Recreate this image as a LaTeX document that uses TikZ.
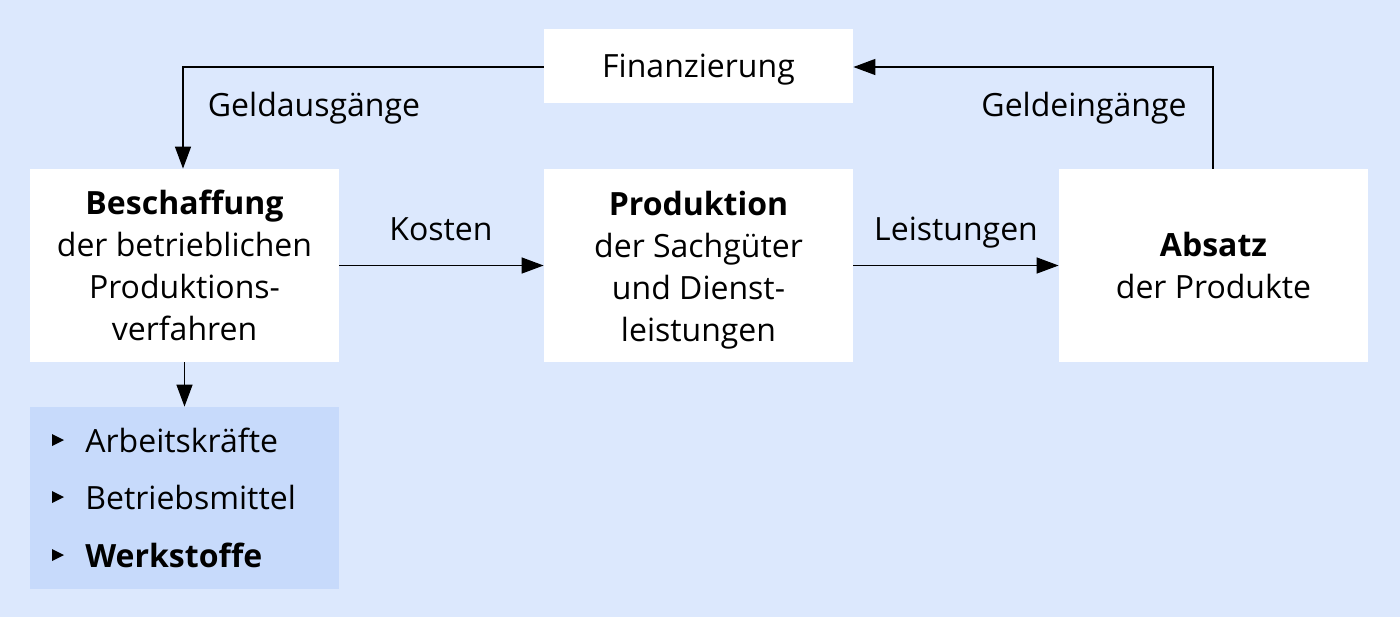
\documentclass[tikz,border=0pt]{standalone}
\usepackage{fontspec}
\setmainfont{Open Sans}
\usetikzlibrary{arrows.meta}
\definecolor{bgblue}{HTML}{DCE8FD}
\definecolor{listblue}{HTML}{C7DAFB}
\begin{document}
\begin{tikzpicture}[x=0.5pt,y=-0.5pt,
  every node/.style={font=\fontsize{16pt}{21pt}\selectfont, inner sep=0pt},
  box/.style={fill=white, minimum width=154.5pt, align=center},
  conn/.style={draw=black, line width=0.7pt, -{Triangle[length=11pt,width=8pt]}},
  lbl/.style={fill=none}
]
\fill[bgblue] (0,0) rectangle (1400,617);
\useasboundingbox (0,0) rectangle (1400,617);

\node[box, minimum height=37pt] (fin) at (698.5,66) {};
\node (fint) at (698.5,70) {Finanzierung};
\node[box, minimum height=96.5pt] (bes) at (184.5,265.5) {\textbf{Beschaffung}\\der betrieblichen\\Produktions-\\verfahren};
\node[box, minimum height=96.5pt] (pro) at (698.5,265.5) {};
\node[align=center] (prot) at (698.5,270.5) {\textbf{Produktion}\\der Sachgüter\\und Dienst-\\leistungen};
\node[box, minimum height=96.5pt] (abs) at (1213.5,265.5) {\textbf{Absatz}\\der Produkte};
\node[fill=listblue, minimum width=154.5pt, minimum height=91pt] (lst) at (184.5,498) {};

\node[anchor=west] (b1) at (85,440) {Arbeitskräfte};
\node[anchor=west] (b2) at (85,497) {Betriebsmittel};
\node[anchor=west] (b3) at (85,555) {\textbf{Werkstoffe}};
\foreach \n in {b1,b2,b3}{
  \fill ([xshift=-16.5pt,yshift=3pt]\n.west) -- ++(6pt,-3pt) -- ++(-6pt,-3pt) -- cycle;
}

\coordinate (c1) at (183,67);
\coordinate (c2) at (1213,67);
\draw[conn] (fin.west |- c1) -- (c1) -- (c1 |- bes.north);
\draw[conn] (c2 |- abs.north) -- (c2) -- (fin.east |- c2);
\draw[conn] (bes.east) -- (pro.west);
\draw[conn] (pro.east) -- (abs.west);
\draw[conn] (bes.south) -- (lst.north);

\node[lbl] (l1) at (314,108) {Geldausgänge};
\node[lbl] (l2) at (1084,108) {Geldeingänge};
\node[lbl] (l3) at (441,229) {Kosten};
\node[lbl] (l4) at (956,233) {Leistungen};
\end{tikzpicture}
\end{document}
